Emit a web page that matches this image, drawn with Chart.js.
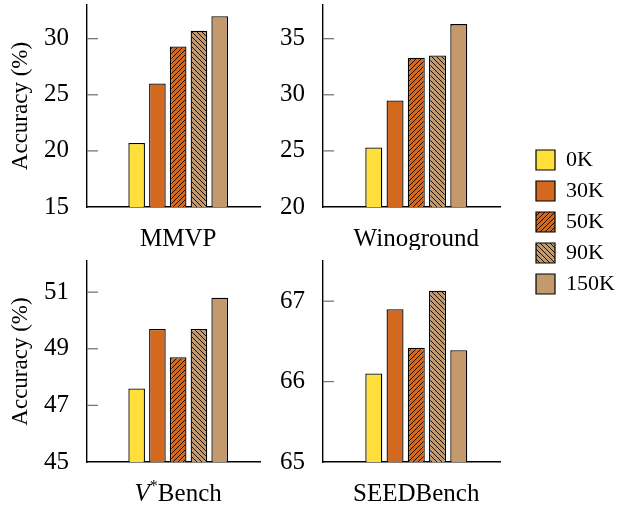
<!DOCTYPE html>
<html>
<head>
<meta charset="utf-8">
<script src="https://cdn.jsdelivr.net/npm/chart.js@4"></script>
<style>
  body { margin: 0; background: #fff; }
  #wrap { position: relative; width: 621px; height: 506px; }
  canvas { position: absolute; }
</style>
</head>
<body>
<div id="wrap">
  <canvas id="c1" width="265" height="250" style="left:0;top:0"></canvas>
  <canvas id="c2" width="240" height="250" style="left:265px;top:0"></canvas>
  <canvas id="c3" width="265" height="256" style="left:0;top:250px"></canvas>
  <canvas id="c4" width="240" height="256" style="left:265px;top:250px"></canvas>
  <canvas id="legend" width="96" height="340" style="left:527px;top:140px"></canvas>
</div>
<script>
// data
var sizes = ['0K', '30K', '50K', '90K', '150K'];
var mmvp = [20.7, 26.0, 29.3, 30.7, 32.0];
var winoground = [25.3, 29.5, 33.3, 33.5, 36.3];
var vstar = [47.6, 49.7, 48.7, 49.7, 50.8];
var seedbench = [66.1, 66.9, 66.42, 67.13, 66.39];
var mmvpTicks = [15, 20, 25, 30];
var winoTicks = [20, 25, 30, 35];
var vstarTicks = [45, 47, 49, 51];
var seedTicks = [65, 66, 67];
var mmvpRange = [15, 33];
var winoRange = [20, 38];
var vstarRange = [45, 52.1];
var seedRange = [65, 67.5];

Chart.defaults.font.family = "'Liberation Serif', serif";
Chart.defaults.color = '#000';

function hatch(bg, dir) {
    var s = 5;
    var c = document.createElement('canvas');
    c.width = s; c.height = s;
    var g = c.getContext('2d');
    g.fillStyle = bg;
    g.fillRect(0, 0, s, s);
    g.strokeStyle = '#000';
    g.lineWidth = 0.9;
    g.beginPath();
    if (dir > 0) {
        g.moveTo(0, s); g.lineTo(s, 0);
        g.moveTo(-1, 1); g.lineTo(1, -1);
        g.moveTo(s - 1, s + 1); g.lineTo(s + 1, s - 1);
    } else {
        g.moveTo(0, 0); g.lineTo(s, s);
        g.moveTo(s - 1, -1); g.lineTo(s + 1, 1);
        g.moveTo(-1, s - 1); g.lineTo(1, s + 1);
    }
    g.stroke();
    return g.createPattern(c, 'repeat');
}

var yellow = '#FFE03A', orange = '#D2691E', tan = '#C49A6C';
var fills = [yellow, orange, hatch(orange, 1), hatch(tan, -1), tan];

// small inward tick marks on the y axis
var innerTicks = {
    id: 'innerTicks',
    afterDatasetsDraw(chart) {
        var y = chart.scales.y, ctx = chart.ctx, left = chart.chartArea.left;
        ctx.save();
        ctx.strokeStyle = '#777';
        ctx.lineWidth = 1.3;
        y.ticks.forEach(t => {
            if (t.value === y.min) return;
            var py = y.getPixelForValue(t.value);
            ctx.beginPath();
            ctx.moveTo(left, py);
            ctx.lineTo(left + 11, py);
            ctx.stroke();
        });
        ctx.restore();
    }
};

// benchmark name under the bars, "V*Bench" gets italic V and raised star
var nameLabel = {
    id: 'nameLabel',
    afterDraw(chart, args, opts) {
        var ctx = chart.ctx;
        var cx = chart.scales.x.getPixelForValue(0);
        var by = chart.chartArea.bottom + 39;
        var parts = opts.text.split('*');
        var pieces = parts.length > 1
            ? [{ t: parts[0], f: 'italic 25px "Liberation Serif"', dy: 0 },
               { t: '*', f: '16px "Liberation Serif"', dy: -10 },
               { t: parts[1], f: '25px "Liberation Serif"', dy: 0 }]
            : [{ t: opts.text, f: '25px "Liberation Serif"', dy: 0 }];
        ctx.save();
        var total = 0;
        pieces.forEach(p => { ctx.font = p.f; p.w = ctx.measureText(p.t).width; total += p.w; });
        var x = cx - total / 2;
        ctx.fillStyle = '#000';
        ctx.textBaseline = 'alphabetic';
        ctx.textAlign = 'left';
        pieces.forEach(p => { ctx.font = p.f; ctx.fillText(p.t, x, by + p.dy); x += p.w; });
        ctx.restore();
    }
};

function makePanel(id, name, values, range, ticks, showTitle, yWidth, xHeight, padTop) {
    return new Chart(document.getElementById(id), {
        type: 'bar',
        data: {
            labels: [name],
            datasets: sizes.map((s, i) => ({
                label: s,
                data: [values[i]],
                backgroundColor: fills[i],
                borderColor: '#000',
                borderWidth: 1.3,
                borderSkipped: false
            }))
        },
        options: {
            responsive: false,
            animation: false,
            layout: { padding: { top: padTop, right: 5, left: 0, bottom: 0 } },
            datasets: { bar: { categoryPercentage: 0.6, barPercentage: 0.8 } },
            scales: {
                x: {
                    grid: { display: false },
                    border: { display: true, color: '#000', width: 1.4 },
                    ticks: { display: false },
                    // bars sit a little right of the axis middle
                    afterDataLimits: s => { s.min = -0.027; },
                    afterFit: s => { s.height = xHeight; }
                },
                y: {
                    min: range[0],
                    max: range[1],
                    grid: { display: false },
                    border: { display: true, color: '#000', width: 1.4 },
                    afterBuildTicks: s => { s.ticks = ticks.map(v => ({ value: v })); },
                    ticks: { padding: 10, font: { size: 25 } },
                    title: {
                        display: showTitle,
                        text: 'Accuracy (%)',
                        font: { size: 23 },
                        padding: { top: 7, bottom: 0 }
                    },
                    afterFit: s => {
                        s.width = yWidth;
                        s.paddingTop = 0;
                        s.paddingBottom = 0;
                    }
                }
            },
            plugins: {
                legend: { display: false },
                tooltip: { enabled: false },
                nameLabel: { text: name }
            }
        },
        plugins: [innerTicks, nameLabel]
    });
}

makePanel('c1', 'MMVP', mmvp, mmvpRange, mmvpTicks, true, 87, 43, 5);
makePanel('c2', 'Winoground', winoground, winoRange, winoTicks, false, 58, 43, 5);
makePanel('c3', 'V*Bench', vstar, vstarRange, vstarTicks, true, 87, 44, 11);
makePanel('c4', 'SEEDBench', seedbench, seedRange, seedTicks, false, 58, 44, 11);

new Chart(document.getElementById('legend'), {
    type: 'bar',
    data: {
        labels: [],
        datasets: sizes.map((s, i) => ({
            label: s,
            data: [],
            backgroundColor: fills[i],
            borderColor: '#000',
            borderWidth: 1.2
        }))
    },
    options: {
        responsive: false,
        animation: false,
        scales: { x: { display: false }, y: { display: false } },
        plugins: {
            tooltip: { enabled: false },
            legend: {
                position: 'top',
                align: 'start',
                onClick: null,
                labels: { boxWidth: 19, boxHeight: 20, padding: 9, font: { size: 22 }, color: '#000' }
            }
        }
    }
});
</script>
</body>
</html>
